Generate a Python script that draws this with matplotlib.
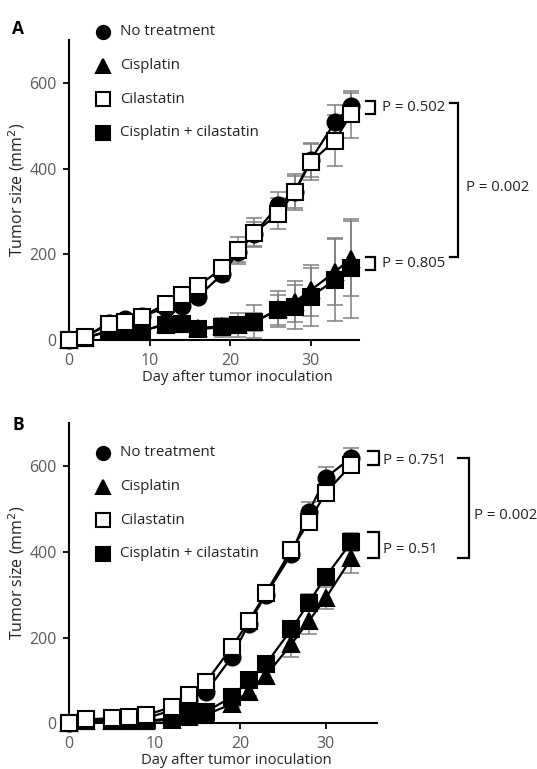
import matplotlib
matplotlib.use('Agg')
import matplotlib.pyplot as plt

plt.rcParams['font.family'] = ['Open Sans', 'DejaVu Sans']

series_names = ['No treatment', 'Cisplatin', 'Cilastatin', 'Cisplatin + cilastatin']

# ---- panel A data
days_a = [0, 2, 5, 7, 9, 12, 14, 16, 19, 21, 23, 26, 28, 30, 33, 35]
notreat_a = [0, 8, 40, 50, 55, 75, 80, 101, 153, 205, 248, 314, 345, 420, 508, 546]
cis_a = [0, 5, 22, 20, 20, 38, 37, 28, 32, 35, 42, 72, 89, 116, 159, 190]
cil_a = [0, 8, 37, 43, 54, 84, 105, 126, 167, 209, 250, 295, 345, 415, 465, 527]
ciscil_a = [0, 5, 20, 20, 22, 35, 37, 25, 30, 35, 43, 70, 77, 101, 140, 167]
notreat_a_err = [0, 2, 5, 6, 6, 8, 8, 10, 15, 22, 28, 32, 38, 40, 40, 30]
cis_a_err = [0, 2, 5, 5, 5, 8, 8, 8, 12, 15, 20, 42, 48, 60, 78, 88]
cil_a_err = [0, 2, 5, 6, 6, 8, 10, 12, 20, 32, 34, 36, 42, 42, 60, 55]
ciscil_a_err = [0, 2, 5, 5, 5, 8, 8, 8, 22, 28, 38, 36, 52, 68, 95, 115]

# ---- panel B data
days_b = [0, 2, 5, 7, 9, 12, 14, 16, 19, 21, 23, 26, 28, 30, 33]
notreat_b = [0, 8, 10, 12, 12, 30, 55, 73, 154, 232, 300, 395, 492, 573, 620]
cis_b = [0, 5, 5, 5, 5, 8, 15, 20, 45, 73, 111, 185, 238, 292, 385]
cil_b = [0, 9, 12, 15, 19, 38, 65, 96, 177, 238, 304, 405, 469, 538, 603]
ciscil_b = [0, 5, 5, 5, 5, 12, 23, 27, 61, 100, 138, 219, 281, 342, 423]
notreat_b_err = [0, 2, 2, 3, 3, 5, 6, 8, 10, 12, 15, 15, 25, 25, 22]
cis_b_err = [0, 2, 2, 2, 2, 3, 4, 5, 8, 10, 12, 30, 30, 25, 35]
cil_b_err = [0, 2, 2, 3, 3, 5, 6, 8, 10, 12, 15, 15, 18, 20, 20]
ciscil_b_err = [0, 2, 2, 2, 2, 3, 4, 5, 8, 10, 12, 15, 20, 15, 22]

p_a = ['P = 0.502', 'P = 0.805', 'P = 0.002']
p_b = ['P = 0.751', 'P = 0.51', 'P = 0.002']

styles = [
    dict(marker='o', mfc='black', mec='black'),
    dict(marker='^', mfc='black', mec='black'),
    dict(marker='s', mfc='white', mec='black'),
    dict(marker='s', mfc='black', mec='black'),
]
zorders = [3, 4, 6, 5]
tick_grey = '#5a5a5a'
txt_col = '#222222'


def draw_panel(ax, days, vals, errs, leg_top, leg_mx, leg_tx, xlab_x, ylab_x):
    for v, e, st, z in zip(vals, errs, styles, zorders):
        ax.errorbar(days, v, yerr=e, fmt='none', ecolor='#808080',
                    elinewidth=1.1, capsize=5.5, capthick=1.1, zorder=2, clip_on=False)
        ax.plot(days, v, color='black', lw=1.6, ms=11.5, mew=1.5,
                zorder=z, clip_on=False, **st)
    ax.set_xlim(0, 36)
    ax.set_ylim(0, 700)
    ax.set_xticks([0, 10, 20, 30])
    ax.set_yticks([0, 200, 400, 600])
    for s in ['top', 'right']:
        ax.spines[s].set_visible(False)
    for s in ['left', 'bottom']:
        ax.spines[s].set_linewidth(1.5)
    ax.tick_params(width=1.3, length=4, colors='black', labelcolor=tick_grey,
                   labelsize=11.5, pad=5)
    ax.set_ylabel('Tumor size (mm$^2$)', fontsize=11.5, color=txt_col)
    ax.yaxis.set_label_coords(ylab_x, 0.5)
    ax.set_xlabel('Day after tumor inoculation', fontsize=10.6, color=txt_col)
    ax.xaxis.set_label_coords(xlab_x, -0.1)
    # legend
    for i, (name, st) in enumerate(zip(series_names, styles)):
        yy = leg_top - i * 0.112
        ax.plot([leg_mx], [yy], transform=ax.transAxes, ms=9.5, mew=1.5,
                ls='none', clip_on=False, **st)
        ax.text(leg_tx, yy, name, transform=ax.transAxes, fontsize=10.8,
                color=txt_col, va='center', ha='left')


def bracket(ax, x0, x1, y0, y1):
    ax.plot([x0, x1, x1, x0], [y0, y0, y1, y1], color='black', lw=1.6,
            clip_on=False, solid_joinstyle='miter')


fig = plt.figure(figsize=(5.37, 7.69), dpi=100)
ax_a = fig.add_axes([69 / 537, 1 - 340 / 769, 290 / 537, 300 / 769])
ax_b = fig.add_axes([69 / 537, 1 - 723.3 / 769, 308 / 537, 300 / 769])

draw_panel(ax_a, days_a, [notreat_a, cis_a, cil_a, ciscil_a],
           [notreat_a_err, cis_a_err, cil_a_err, ciscil_a_err],
           1.027, 0.117, 0.176, 0.58, -42 / 290)
draw_panel(ax_b, days_b, [notreat_b, cis_b, cil_b, ciscil_b],
           [notreat_b_err, cis_b_err, cil_b_err, ciscil_b_err],
           0.901, 0.110, 0.166, 0.545, -42 / 308)

# panel A brackets
top_hi, top_lo = max(notreat_a[-1], cil_a[-1]) + 12, min(notreat_a[-1], cil_a[-1])
bot_hi, bot_lo = max(cis_a[-1], ciscil_a[-1]) + 4, min(cis_a[-1], ciscil_a[-1]) - 4
bracket(ax_a, 36.9, 38.0, top_hi, top_lo)
bracket(ax_a, 36.9, 38.0, bot_hi, bot_lo)
ax_a.text(38.8, (top_hi + top_lo) / 2, p_a[0], fontsize=10.7, color=txt_col, va='center')
ax_a.text(38.8, (bot_hi + bot_lo) / 2, p_a[1], fontsize=10.7, color=txt_col, va='center')
bracket(ax_a, 47.3, 48.3, top_hi - 4, bot_hi)
ax_a.text(49.3, (top_hi + bot_hi) / 2 - 20, p_a[2], fontsize=10.7, color=txt_col, va='center')

# panel B brackets
top_hi, top_lo = max(notreat_b[-1], cil_b[-1]) + 15, min(notreat_b[-1], cil_b[-1])
bot_hi, bot_lo = max(cis_b[-1], ciscil_b[-1]) + 23, min(cis_b[-1], ciscil_b[-1])
bracket(ax_b, 35.0, 36.2, top_hi, top_lo)
bracket(ax_b, 35.0, 36.2, bot_hi, bot_lo)
ax_b.text(36.7, (top_hi + top_lo) / 2 - 5, p_b[0], fontsize=10.7, color=txt_col, va='center')
ax_b.text(36.7, (bot_hi + bot_lo) / 2 - 10, p_b[1], fontsize=10.7, color=txt_col, va='center')
bracket(ax_b, 45.5, 46.7, top_hi - 15, bot_lo)
ax_b.text(47.3, (top_hi + bot_lo) / 2 - 26, p_b[2], fontsize=10.7, color=txt_col, va='center')

fig.text(12 / 537, 1 - 29 / 769, 'A', fontsize=12.5, fontweight='bold', va='center')
fig.text(12 / 537, 1 - 425 / 769, 'B', fontsize=12.5, fontweight='bold', va='center')

fig.savefig('out.png', dpi=100)
